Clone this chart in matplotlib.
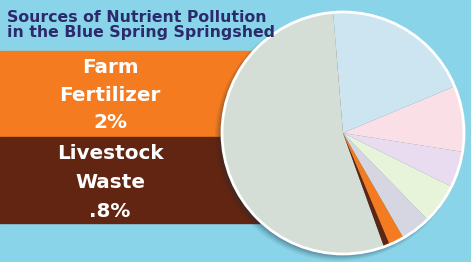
import matplotlib
matplotlib.use("Agg")
import matplotlib.pyplot as plt
from matplotlib.patches import Circle, Rectangle, Wedge

# ---- data ----
sources = ["Septic Systems", "Livestock Waste", "Farm Fertilizer", "Sports Turfgrass",
           "Atmospheric Deposition", "Wastewater", "Urban Fertilizer (other)", "Urban Turfgrass Fertilizer"]
shares = [54.2, 0.8, 2.0, 4.0, 5.4, 4.8, 8.8, 20.0]
slice_colors = ["#D4DED6", "#5E2612", "#F47B20", "#D6D6E2", "#E8F4DA", "#EADCF0", "#FBDFE6", "#CDE4F1"]

title_lines = ["Sources of Nutrient Pollution", "in the Blue Spring Springshed"]
farm_lines = ["Farm", "Fertilizer", "2%"]
live_lines = ["Livestock", "Waste", ".8%"]

W, H = 471, 262
BG = "#89D4E8"
fig = plt.figure(figsize=(W / 100, H / 100), dpi=100, facecolor=BG)
ax = fig.add_axes([0, 0, 1, 1])
ax.set_facecolor(BG)

def Y(y):  # image row -> plot coordinate
    return H - y

# bands
ax.add_patch(Rectangle((0, Y(136.7)), 343, 136.7 - 51, color="#F47B20", zorder=1))
ax.add_patch(Rectangle((0, Y(223.3)), 343, 223.3 - 136.7, color="#622511", zorder=1))

# pie shadow
cx, cy, r = 343, Y(133), 121
for i, a in enumerate([0.06, 0.08, 0.10, 0.14, 0.18]):
    ax.add_patch(Circle((cx - 4 + i * 0.6, cy - 4 + i * 0.6), r + 3 - i * 0.8, color="#1a3040", alpha=a, lw=0, zorder=2))

wedges, _ = ax.pie(shares, colors=slice_colors, startangle=94.7, counterclock=True, center=(cx, cy), radius=r,
                   wedgeprops=dict(linewidth=0), frame=True)
for w in wedges:
    w.set_zorder(3)
# soft shadow beside the two small slices
for w in wedges[1:3]:
    sh = Wedge((cx - 2, cy - 1), r, w.theta1, w.theta2, color="#303030", alpha=0.35, lw=0, zorder=2.9)
    ax.add_patch(sh)
    w.set_zorder(3.1)
ax.add_patch(Circle((cx, cy), r, fill=False, ec="white", lw=2, zorder=4))

# texts
title_color = "#2B2A6B"
for line, yb in zip(title_lines, [21.7, 36.7]):
    ax.text(7, Y(yb), line, fontsize=11.3, fontweight="bold", color=title_color,
            family="DejaVu Sans", ha="left", va="baseline", zorder=5)
for line, yb in zip(farm_lines + live_lines, [73.3, 100.7, 128.3, 159.3, 188.3, 216.7]):
    ax.text(110, Y(yb), line, fontsize=14.4, fontweight="bold", color="white",
            family="DejaVu Sans", ha="center", va="baseline", zorder=5)

ax.set_xlim(0, W)
ax.set_ylim(0, H)
ax.set_aspect("auto")
ax.axis("off")
fig.savefig("out.png", dpi=100, facecolor=BG)
